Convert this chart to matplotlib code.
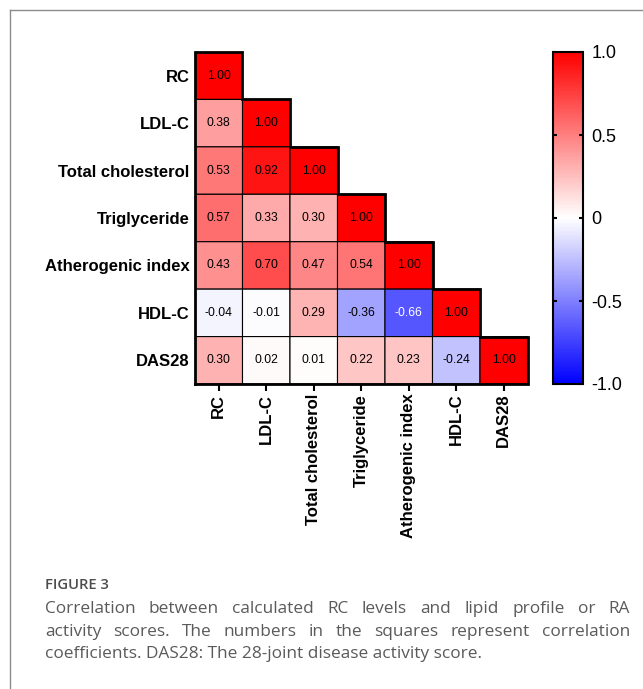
import matplotlib
matplotlib.use("Agg")
import matplotlib.pyplot as plt
import numpy as np
from matplotlib.colors import LinearSegmentedColormap
from matplotlib.lines import Line2D

# variables (same order on both axes)
LABELS = ["RC", "LDL-C", "Total cholesterol", "Triglyceride",
          "Atherogenic index", "HDL-C", "DAS28"]

# lower triangle of the correlation matrix, row by row
CORR_ROWS = [
    [1.00],
    [0.38, 1.00],
    [0.53, 0.92, 1.00],
    [0.57, 0.33, 0.30, 1.00],
    [0.43, 0.70, 0.47, 0.54, 1.00],
    [-0.04, -0.01, 0.29, -0.36, -0.66, 1.00],
    [0.30, 0.02, 0.01, 0.22, 0.23, -0.24, 1.00],
]

CBAR_TICKS = [-1.0, -0.5, 0.0, 0.5, 1.0]
CBAR_TICKLABELS = ["-1.0", "-0.5", "0", "0.5", "1.0"]

CAPTION_TITLE = "FIGURE 3"
CAPTION_LINES = [
    "Correlation between calculated RC levels and lipid profile or RA",
    "activity scores. The numbers in the squares represent correlation",
    "coefficients. DAS28: The 28-joint disease activity score.",
]

W, H = 643, 689


def box(x0, y0, x1, y1):
    """pixel box (top-left origin) -> figure fraction rect"""
    return [x0 / W, 1 - y1 / H, (x1 - x0) / W, (y1 - y0) / H]


n = len(LABELS)
corr = np.full((n, n), np.nan)
for i, row in enumerate(CORR_ROWS):
    corr[i, :len(row)] = row
masked = np.ma.masked_invalid(corr)

cmap = LinearSegmentedColormap.from_list("bwr_pure", ["#0000ff", "#ffffff", "#ff0000"])

plt.rcParams['font.family'] = ['Liberation Sans', 'DejaVu Sans']

fig = plt.figure(figsize=(W / 100, H / 100), dpi=100)

ax = fig.add_axes(box(195, 52, 527.5, 384))
# pcolor drops masked cells entirely (no edges for the empty upper half)
mesh = ax.pcolor(np.arange(n + 1), np.arange(n + 1), masked, cmap=cmap,
                 vmin=-1, vmax=1, edgecolors='black', linewidth=0.8)
ax.set_xlim(0, n)
ax.set_ylim(n, 0)

for i in range(n):
    for j in range(i + 1):
        v = corr[i, j]
        ax.text(j + 0.5, i + 0.5, "%.2f" % v, ha='center', va='center',
                fontsize=8.7, color='white' if v < -0.5 else 'black')

# staircase outline of the triangle
xs, ys = [0, 0], [n, 0]
for k in range(n):
    xs += [k + 1, k + 1]
    ys += [k, k + 1]
xs.append(0)
ys.append(n)
ax.plot(xs, ys, color='black', lw=2, clip_on=False, solid_joinstyle='miter')

for s in ax.spines.values():
    s.set_visible(False)
ax.set_xticks(np.arange(n) + 0.5)
ax.set_xticklabels(LABELS, rotation=90, fontsize=12, fontweight='bold')
ax.set_yticks(np.arange(n) + 0.5)
ax.set_yticklabels(LABELS, fontsize=12, fontweight='bold')
ax.tick_params(axis='x', length=5, width=1.5, pad=2)
ax.tick_params(axis='y', length=0, pad=4)

cax = fig.add_axes(box(553, 52, 583, 384))
cb = fig.colorbar(mesh, cax=cax, ticks=CBAR_TICKS)
cb.ax.set_yticklabels(CBAR_TICKLABELS)
cb.outline.set_linewidth(1.5)
cax.tick_params(direction='in', length=3, width=1.5, labelsize=13,
                left=True, right=True, pad=6)

# caption
cap_style = dict(fontsize=12.4, color='#5a5a5a', family='Open Sans', va='baseline')
fig.text(45 / W, 1 - 589 / H, CAPTION_TITLE, fontsize=10.6, color='#4d4d4d',
         family='Open Sans', fontweight='semibold', va='baseline')

renderer = fig.canvas.get_renderer()
x_left, x_right = 45, 630
for k, line in enumerate(CAPTION_LINES):
    y = 1 - (613 + k * 22.5) / H
    if k == len(CAPTION_LINES) - 1:
        fig.text(x_left / W, y, line, **cap_style)
        continue
    words = line.split()
    texts = [fig.text(0, y, w, **cap_style) for w in words]
    widths = [t.get_window_extent(renderer).width for t in texts]
    gap = (x_right - x_left - sum(widths)) / (len(words) - 1)
    x = x_left
    for t, w in zip(texts, widths):
        t.set_x(x / W)
        x += w + gap

# panel frame
fig.add_artist(Line2D([10 / W, 1], [1 - 10 / H, 1 - 10 / H], transform=fig.transFigure,
                      color='#8c8c8c', lw=1))
fig.add_artist(Line2D([10 / W, 10 / W], [1 - 10 / H, 0], transform=fig.transFigure,
                      color='#8c8c8c', lw=1))

fig.savefig("out.png", dpi=100)
